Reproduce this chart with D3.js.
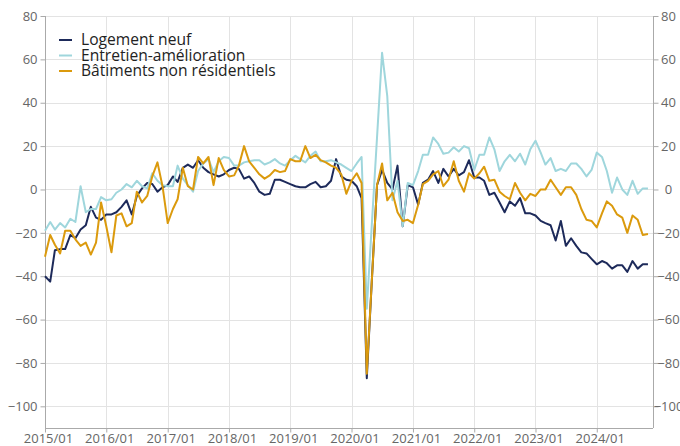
<!DOCTYPE html>
<html>
<head>
<meta charset="utf-8">
<script src="https://cdn.jsdelivr.net/npm/d3@7"></script>
<style>
    body { margin: 0; background: #fff; }
    svg { display: block; font-family: "Open Sans", sans-serif; }
</style>
</head>
<body>
<div id="chart"></div>
<script>
const seriesNames = ['Logement neuf', 'Entretien-amélioration', 'Bâtiments non résidentiels'];
const seriesColors = ['#1d2a5a', '#9fd6dc', '#db9a0d'];

const logementNeuf = [
    -40, -42.5, -28, -27.5, -27.5, -21, -22.5, -18.5, -16.5, -8, -13, -14,
    -11.5, -11.5, -10.5, -8, -5, -11.5, -3, 0.5, 3, 2.5, -1, 1,
    2, 6, 3.5, 10, 11.5, 10, 13.5, 10, 8, 7, 6, 7,
    9, 10, 9.5, 5, 6, 3, -1, -2.5, -2, 4.5, 4.5, 3.5,
    2.5, 1.5, 1, 1, 2.5, 3.5, 1, 1.5, 4, 14, 6, 4.5,
    4, 1.5, -4, -87, -42, 2, 9, 3, 0, 11, -17, 2,
    1, -7, 3, 4.5, 8.5, 3, 9.5, 6, 9.5, 6.5, 8, 13.5,
    5.5, 5.5, 4, -2.5, -1.5, -6, -10.5, -5.5, -7.5, -4, -11, -11,
    -12, -14.5, -15.5, -16.5, -23.5, -14.5, -26, -22.5, -26, -29, -29.5, -32,
    -34.5, -33, -34, -36.5, -35, -35, -38, -33, -36.5, -34.5, -34.5
];
const entretien = [
    -19, -15, -18.5, -15.5, -17.5, -13.5, -15, 1.5, -10.5, -9, -9, -3.5,
    -5, -4.5, -1.5, 0, 2.5, 1, 4, 1.5, 0.5, 7.5, 4, 2,
    1.5, 1.5, 11, 5, 2, -1, 8.5, 12, 14, 8, 13, 15,
    14.5, 11, 11, 12.5, 13, 13.5, 13.5, 11.5, 12.5, 14, 12, 11,
    13.5, 15.5, 14, 12.5, 15.5, 17.5, 13, 13, 13.5, 12.5, 11.5, 10,
    8.5, 12, 15, -55, -16, 24, 63, 43, -5, 4, -17, 3,
    2, 8.5, 16, 16, 24, 21, 16.5, 17, 19.5, 17.5, 20, 19,
    9, 16, 16, 24, 18.5, 8.5, 13, 16, 13, 16.5, 11.5, 18.5,
    22.5, 17, 11.5, 14.5, 8.5, 9.5, 8.5, 12, 12, 9.5, 6, 9,
    17, 15, 8.5, -1.5, 5.5, 0, -2.5, 4, -2, 0.5, 0.5
];
const nonResidentiels = [
    -31, -21, -25.5, -29.5, -19, -19, -23, -26, -24.5, -30, -24.5, -6,
    -17, -29, -12, -11, -17, -15.5, -1, -6, -3, 6, 12.5, 1.5,
    -15.5, -9, -4.5, 10, 1.5, 0, 15, 12, 15, 2, 14.5, 9,
    6, 6.5, 11, 20, 13, 10, 7, 5, 6.5, 9, 8, 8.5,
    14, 13, 13, 20, 14.5, 16, 13.5, 12.5, 11, 10, 7, -2,
    4, 7.5, 3, -85, -42, 2, 12, -5, -1.5, -10.5, -14.5, -14,
    -15.5, -7, 2.5, 4, 7, 8.5, 1.5, 4.5, 13, 4, -1, 7.5,
    5, 7.5, 10.5, 4, 4.5, -1, -3, -4.5, 3, -1.5, -5, -2,
    -3, 0, 0, 4.5, 1, -2.5, 1, 1, -2.5, -9, -14, -14.5,
    -17.5, -11, -5.5, -7.5, -11.5, -13, -20, -12, -14, -21, -20.5
];
const yTicks = [-100, -80, -60, -40, -20, 0, 20, 40, 60, 80];
const xTickYears = [2015, 2016, 2017, 2018, 2019, 2020, 2021, 2022, 2023, 2024];

const width = 680, height = 446;
const months = d3.timeMonth.range(new Date(2015, 0, 1), new Date(2015, 0 + logementNeuf.length, 1));
const series = [logementNeuf, entretien, nonResidentiels];

const x = d3.scaleTime()
    .domain([new Date(2015, 0, 1), new Date(2024, 11, 1)])
    .range([45, 653]);
const y = d3.scaleLinear().domain([-110, 80]).range([428, 16]);

const svg = d3.select('#chart').append('svg')
    .attr('width', width).attr('height', height)
    .attr('viewBox', [0, 0, width, height]);

const xTicks = xTickYears.map(yr => new Date(yr, 0, 1));

// grid
svg.append('g')
    .attr('stroke', '#e3e3e3').attr('stroke-width', 1)
    .selectAll('line').data(yTicks)
    .join('line')
    .attr('x1', 45).attr('x2', 653)
    .attr('y1', d => Math.round(y(d)) + .5).attr('y2', d => Math.round(y(d)) + .5);
svg.append('g')
    .attr('stroke', '#e3e3e3').attr('stroke-width', 1)
    .selectAll('line').data(xTicks.slice(1))
    .join('line')
    .attr('x1', d => Math.round(x(d)) + .5).attr('x2', d => Math.round(x(d)) + .5)
    .attr('y1', 16).attr('y2', 428);

// axes
const axisColor = '#aaa';
const leftAxis = svg.append('g').attr('transform', 'translate(45.5,0)')
    .call(d3.axisLeft(y).tickValues(yTicks).tickSize(5).tickPadding(3).tickFormat(d3.format('d')));
const rightAxis = svg.append('g').attr('transform', 'translate(653.5,0)')
    .call(d3.axisRight(y).tickValues(yTicks).tickSize(5).tickPadding(0).tickFormat(d3.format('d')));
rightAxis.selectAll('text').attr('text-anchor', 'middle').attr('x', 15);
const bottomAxis = svg.append('g').attr('transform', 'translate(0,428.5)')
    .call(d3.axisBottom(x).tickValues(xTicks).tickSize(4).tickPadding(1).tickFormat(d3.timeFormat('%Y/%m')));
bottomAxis.selectAll('text').attr('dx', 3);

[leftAxis, rightAxis, bottomAxis].forEach(a => {
    a.select('.domain').attr('stroke', axisColor);
    a.selectAll('.tick line').attr('stroke', axisColor);
    a.selectAll('text').attr('fill', '#666').attr('font-size', 13)
        .attr('font-family', '"Open Sans", sans-serif');
});
leftAxis.select('.domain').attr('d', 'M0,16V428');
rightAxis.select('.domain').attr('d', 'M0,16V428');
bottomAxis.select('.domain').attr('d', 'M45,0H653');

// lines
const line = d3.line()
    .x((d, i) => x(months[i]))
    .y(d => y(d));

svg.append('g')
    .attr('fill', 'none').attr('stroke-width', 2).attr('stroke-linejoin', 'round')
    .selectAll('path').data([0, 1, 2])
    .join('path')
    .attr('stroke', k => seriesColors[k])
    .attr('d', k => line(series[k]));

// legend
const legend = svg.append('g').attr('transform', 'translate(59,40)');
const item = legend.selectAll('g').data(seriesNames)
    .join('g').attr('transform', (d, i) => `translate(0,${i * 15.5})`);
item.append('line').attr('x1', 0).attr('x2', 13)
    .attr('stroke', (d, i) => seriesColors[i]).attr('stroke-width', 2);
item.append('text').attr('x', 22).attr('dy', '0.35em')
    .attr('font-size', 15.6).attr('fill', '#222').text(d => d);
</script>
</body>
</html>
